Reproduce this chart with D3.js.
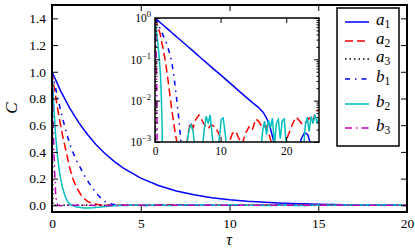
<!DOCTYPE html>
<html>
<head>
<meta charset="utf-8">
<script src="https://cdn.jsdelivr.net/npm/d3@7"></script>
<style>
body { margin: 0; background: #fff; }
text { font-family: "Liberation Serif", serif; }
</style>
</head>
<body>
<div id="container"></div>
<script>
// series as [tau, C] pairs
var a1 = [[0,1],[0.5,0.853],[1,0.728],[1.5,0.621],[2,0.53],[2.5,0.452],[3,0.386],[3.5,0.329],[4,0.281],[5,0.204],
  [6,0.149],[7,0.108],[8,0.079],[9,0.057],[10,0.042],[11,0.0305],[12,0.0222],[13,0.0161],[14,0.0117],[15,0.0086],
  [15.8,0.0068],[16.5,0.0052],[17,0.0038],[17.5,0.0024],[18,0.0012],[18.5,0.0006],[19,0.0003],[20,0.0001],[21,0.0002],
  [21.8,0.0006],[22.3,0.0012],[22.8,0.0017],[23.3,0.0015],[23.8,0.0008],[24.3,0.0004],[25,0.0002]];

var a2 = [[0,1],[0.1,0.9],[0.2,0.82],[0.3,0.74],[0.4,0.66],[0.5,0.59],[0.6,0.52],[0.7,0.46],[0.8,0.4],[0.9,0.34],
  [1,0.28],[1.2,0.19],[1.4,0.13],[1.6,0.085],[1.8,0.052],[2,0.03],[2.2,0.017],[2.4,0.0095],[2.6,0.0055],[2.8,0.0033],
  [3,0.002],[3.2,0.0013],[3.4,0.0009],[3.6,0.0004],[4,-0.0003],[4.5,0.0002],[5,0.0015],[5.4,0.003],[5.8,0.0022],
  [6.2,0.0035],[6.7,0.0045],[7.1,0.0035],[7.6,0.0025],[8.1,0.0021],[8.6,0.0026],[9.2,0.0023],[9.8,0.0015],[10.5,0.0006],
  [11.2,0.0009],[11.8,0.0016],[12.3,0.0018],[12.8,0.0012],[13.3,0.0009],[13.8,0.0016],[14.3,0.0023],[14.8,0.0019],
  [15.4,0.0036],[15.9,0.003],[16.4,0.0022],[16.9,0.0025],[17.4,0.0015],[18,0.0007],[18.6,0.0004],[19.2,0.0006],
  [19.8,0.0009],[20.4,0.0016],[21,0.0028],[21.5,0.004],[22,0.0033],[22.5,0.0026],[23,0.003],[23.5,0.0038],[24,0.003],
  [24.5,0.0055],[25,0.006]];

var a3 = [[0,1],[0.05,0],[1,0.0002],[3,-0.0002],[6,0.0001],[10,-0.0001],[15,0.0001],[20,0],[25,0]];

var b1 = [[0,1],[0.2,0.88],[0.4,0.76],[0.6,0.65],[0.8,0.55],[1,0.46],[1.2,0.39],[1.4,0.33],[1.6,0.28],[1.8,0.23],
  [2,0.185],[2.2,0.145],[2.4,0.108],[2.6,0.075],[2.8,0.048],[3,0.028],[3.2,0.015],[3.4,0.008],[3.6,0.004],[3.8,0.0019],
  [4,0.0008],[4.3,0.0002],[4.6,-0.0003],[5,-0.0005],[6,-0.0004],[7,0.0003],[7.5,0.0008],[7.9,0.0011],[8.3,0.0006],
  [9,0.0001],[10,-0.0003],[12,-0.0002],[14,0.0001],[16,-0.0002],[18,-0.0001],[20,0.0001],[22,-0.0001],[25,0]];

var b2 = [[0,1],[0.1,0.75],[0.2,0.53],[0.3,0.38],[0.4,0.27],[0.5,0.19],[0.6,0.13],[0.7,0.085],[0.8,0.05],[0.9,0.025],
  [1,0.008],[1.1,0.002],[1.2,-0.004],[1.4,-0.012],[1.6,-0.017],[1.8,-0.02],[2,-0.02],[2.3,-0.018],[2.6,-0.014],[3,-0.009],
  [3.5,-0.004],[4,-0.0015],[4.5,-0.0002],[4.8,0.0008],[5.2,0.002],[5.5,0.0026],[5.8,0.0018],[6.1,0.0007],[6.6,-0.0005],
  [7.2,0.0006],[7.5,0.002],[7.8,0.0042],[8.1,0.0028],[8.4,0.0045],[8.7,0.0015],[9.2,0.0003],[9.8,0.0012],[10.1,0.0035],
  [10.4,0.0038],[10.7,0.0016],[11.1,0.0004],[12,-0.0006],[13,-0.0003],[14,-0.0005],[15,-0.0002],[16,0.0004],[16.4,0.0018],
  [16.7,0.0032],[17,0.0015],[17.3,0.0034],[17.6,0.0022],[17.9,0.0038],[18.2,0.0008],[18.5,0.0028],[18.8,0.0035],
  [19.1,0.0012],[19.4,0.0033],[19.7,0.0036],[20,0.0009],[20.5,0.0002],[21.5,-0.0004],[22.5,0.0003],[22.9,0.0025],
  [23.2,0.004],[23.5,0.0018],[23.8,0.0042],[24.1,0.0028],[24.4,0.0045],[24.7,0.003],[25,0.0038]];

var b3 = [[0,1],[0.05,0.7],[0.1,0.45],[0.15,0.25],[0.2,0.1],[0.25,0.03],[0.3,0.005],[0.35,-0.002],[0.5,-0.003],[1,0.001],
  [2,0],[3,-0.001],[5,0.0004],[8,-0.0003],[11,0.0005],[14,-0.0004],[17,0.0003],[20,-0.0002],[23,0.0004],[25,0]];

var names = ["a1","a2","a3","b1","b2","b3"];
var colors = ["#0000ff","#ff0000","#000000","#0000ff","#00bfbf","#bf00bf"];
var dashes = [null,"8,4","1.5,3","5,5,1.5,5",null,"7,4,1.5,4"];
var xTicks = [0,5,10,15,20];
var yTicks = [0,0.2,0.4,0.6,0.8,1.0,1.2,1.4];
var insetXTicks = [0,10,20];
var insetYTicks = [1e-3,1e-2,1e-1,1];

var series = [a1,a2,a3,b1,b2,b3];

var svg = d3.select("#container").append("svg")
  .attr("width",415).attr("height",249)
  .style("display","block");
svg.append("rect").attr("width",415).attr("height",249).attr("fill","#fff");

var L = 52, R = 407, T = 5, B = 212;
var x = d3.scaleLinear().domain([0,20]).range([L,R]);
var y = d3.scaleLinear().domain([-0.05,1.5]).range([B,T]);

var defs = svg.append("defs");
defs.append("clipPath").attr("id","clipMain").append("rect")
  .attr("x",L).attr("y",T).attr("width",R-L).attr("height",B-T);

// main curves
var line = d3.line().x(function(d){return x(d[0]);}).y(function(d){return y(d[1]);});
var gMain = svg.append("g").attr("clip-path","url(#clipMain)");
series.forEach(function(s,i){
  gMain.append("path")
    .attr("d",line(s))
    .attr("fill","none")
    .attr("stroke",colors[i])
    .attr("stroke-width",1.5)
    .attr("stroke-dasharray",dashes[i]);
});

function styleAxis(g, fs) {
  g.select(".domain").remove();
  g.selectAll("line").attr("stroke","#000").attr("stroke-width",1);
  g.selectAll("text").attr("fill","#000").style("font-family","'Liberation Serif', serif").attr("font-size",fs);
}

svg.append("g").attr("transform","translate(0,"+B+")")
  .call(d3.axisBottom(x).tickValues(xTicks).tickSize(-6).tickSizeOuter(0).tickPadding(6).tickFormat(d3.format("d")))
  .call(styleAxis,13.5);
svg.append("g").attr("transform","translate(0,"+T+")")
  .call(d3.axisTop(x).tickValues(xTicks).tickSize(-6).tickSizeOuter(0).tickFormat(""))
  .call(styleAxis,13.5);
svg.append("g").attr("transform","translate("+L+",0)")
  .call(d3.axisLeft(y).tickValues(yTicks).tickSize(-6).tickSizeOuter(0).tickPadding(6).tickFormat(d3.format(".1f")))
  .call(styleAxis,13.5);
svg.append("g").attr("transform","translate("+R+",0)")
  .call(d3.axisRight(y).tickValues(yTicks).tickSize(-6).tickSizeOuter(0).tickFormat(""))
  .call(styleAxis,13.5);

svg.append("rect").attr("x",L).attr("y",T).attr("width",R-L).attr("height",B-T)
  .attr("fill","none").attr("stroke","#000").attr("stroke-width",2);

svg.append("text").attr("transform","translate(17,108) rotate(-90)")
  .attr("text-anchor","middle").attr("font-size",17).attr("font-style","italic").text("C");
svg.append("text").attr("x",229).attr("y",245)
  .attr("text-anchor","middle").attr("font-size",16).attr("font-style","italic").text("τ");

// inset
var iL = 155, iR = 319, iT = 18, iB = 142;
var xi = d3.scaleLinear().domain([0,25]).range([iL,iR]);
var yi = d3.scaleLog().domain([1e-3,1]).range([iB,iT]);

svg.append("rect").attr("x",iL).attr("y",iT).attr("width",iR-iL).attr("height",iB-iT).attr("fill","#fff");
defs.append("clipPath").attr("id","clipInset").append("rect")
  .attr("x",iL).attr("y",iT).attr("width",iR-iL).attr("height",iB-iT);

var lineLog = d3.line().x(function(d){return xi(d[0]);})
  .y(function(d){return yi(d[1] > 0 ? d[1] : 1e-6);});
var gInset = svg.append("g").attr("clip-path","url(#clipInset)");
series.forEach(function(s,i){
  gInset.append("path")
    .attr("d",lineLog(s))
    .attr("fill","none")
    .attr("stroke",colors[i])
    .attr("stroke-width",1.5)
    .attr("stroke-dasharray",dashes[i]);
});

var minorY = [];
[1e-3,1e-2,1e-1].forEach(function(dec){
  for (var k = 2; k <= 9; k++) minorY.push(dec*k);
});

svg.append("g").attr("transform","translate(0,"+iB+")")
  .call(d3.axisBottom(xi).tickValues(insetXTicks).tickSize(-5).tickSizeOuter(0).tickPadding(5).tickFormat(d3.format("d")))
  .call(styleAxis,11.5);
svg.append("g").attr("transform","translate(0,"+iT+")")
  .call(d3.axisTop(xi).tickValues(insetXTicks).tickSize(-5).tickSizeOuter(0).tickFormat(""))
  .call(styleAxis,11.5);
var yInsetAxis = svg.append("g").attr("transform","translate("+iL+",0)")
  .call(d3.axisLeft(yi).tickValues(insetYTicks).tickSize(-5).tickSizeOuter(0).tickPadding(4).tickFormat(function(){return "";}))
  .call(styleAxis,11.5);
yInsetAxis.selectAll(".tick text").each(function(d){
  var t = d3.select(this);
  var e = Math.round(Math.log10(d));
  t.text("10");
  t.append("tspan").attr("dy",-5).attr("font-size",8.5).text(e === 0 ? "0" : "\u2212" + Math.abs(e));
});
svg.append("g").attr("transform","translate("+iR+",0)")
  .call(d3.axisRight(yi).tickValues(insetYTicks).tickSize(-5).tickSizeOuter(0).tickFormat(""))
  .call(styleAxis,11.5);
svg.append("g").attr("transform","translate("+iL+",0)")
  .call(d3.axisLeft(yi).tickValues(minorY).tickSize(-2.5).tickSizeOuter(0).tickFormat(""))
  .call(styleAxis,11.5);
svg.append("g").attr("transform","translate("+iR+",0)")
  .call(d3.axisRight(yi).tickValues(minorY).tickSize(-2.5).tickSizeOuter(0).tickFormat(""))
  .call(styleAxis,11.5);

svg.append("rect").attr("x",iL).attr("y",iT).attr("width",iR-iL).attr("height",iB-iT)
  .attr("fill","none").attr("stroke","#000").attr("stroke-width",1.5);

// legend
var legY = [22,41,59,79,104,128];
var leg = svg.append("g");
leg.append("rect").attr("x",337).attr("y",8).attr("width",62).attr("height",138)
  .attr("fill","#fff").attr("stroke","#000").attr("stroke-width",1.5);
names.forEach(function(n,i){
  leg.append("line").attr("x1",345).attr("x2",369).attr("y1",legY[i]).attr("y2",legY[i])
    .attr("stroke",colors[i]).attr("stroke-width",1.5).attr("stroke-dasharray",dashes[i]);
  var t = leg.append("text").attr("x",376).attr("y",legY[i]+3).attr("font-size",17).attr("font-style","italic").text(n[0]);
  t.append("tspan").attr("dy",3).attr("font-size",11.5).attr("font-style","normal").text(n[1]);
});
</script>
</body>
</html>
